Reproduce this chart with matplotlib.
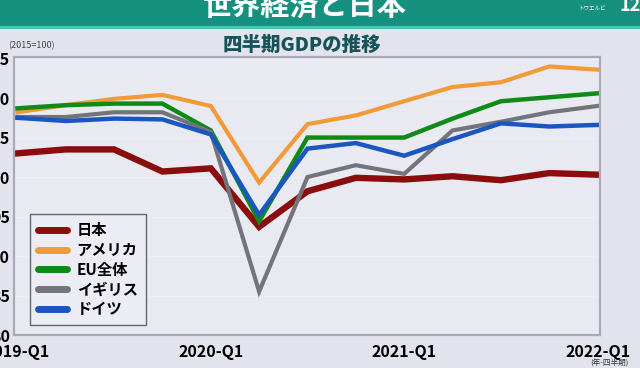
import matplotlib.pyplot as plt
from matplotlib.patches import Rectangle
import numpy as np

plt.rcParams['font.family'] = ['Noto Sans CJK JP', 'DejaVu Sans']

quarters = ['2019-Q1', '2019-Q2', '2019-Q3', '2019-Q4',
            '2020-Q1', '2020-Q2', '2020-Q3', '2020-Q4',
            '2021-Q1', '2021-Q2', '2021-Q3', '2021-Q4', '2022-Q1']
tick_labels = ['2019-Q1', '2020-Q1', '2021-Q1', '2022-Q1']

japan = [103.0, 103.5, 103.5, 100.7, 101.1, 93.7, 98.2, 99.9, 99.7, 100.1, 99.6, 100.5, 100.3]
usa = [108.2, 109.1, 109.9, 110.4, 109.0, 99.3, 106.7, 107.8, 109.6, 111.4, 112.0, 114.0, 113.6]
eu = [108.7, 109.1, 109.3, 109.3, 105.9, 94.4, 105.0, 105.0, 105.0, 107.4, 109.6, 110.1, 110.6]
uk = [107.6, 107.6, 108.2, 108.2, 105.7, 85.5, 100.0, 101.5, 100.4, 105.9, 107.0, 108.2, 109.0]
germany = [107.5, 107.1, 107.4, 107.3, 105.4, 95.2, 103.6, 104.3, 102.7, 104.8, 106.8, 106.4, 106.6]

names = ['日本', 'アメリカ', 'EU全体', 'イギリス', 'ドイツ']
colors = ['#8a0c0c', '#f39a38', '#0f8a14', '#73737c', '#1a56c2']
widths = [4.6, 3.0, 3.2, 3.0, 3.2]

fig = plt.figure(figsize=(6.4, 3.68), dpi=100)
fig.patch.set_facecolor('#e3e3ee')

# header band
fig.patches.append(Rectangle((0, 1 - 26 / 368), 1, 26 / 368, transform=fig.transFigure,
                             facecolor='#16907f', edgecolor='none', zorder=0))
fig.patches.append(Rectangle((0, 1 - 29 / 368), 1, 3 / 368, transform=fig.transFigure,
                             facecolor='#4cc4b4', edgecolor='none', zorder=0))
fig.text(0.477, 0.982, '世界経済と日本', color='white', fontsize=21, fontweight='bold',
         ha='center', va='center')
fig.text(0.925, 0.975, 'トウエルビ', color='white', fontsize=4, ha='center', va='center')
fig.text(0.985, 0.985, '12', color='white', fontsize=13, fontweight='bold', ha='center', va='center')

fig.text(0.471, 0.877, '四半期GDPの推移', color='#17545a', fontsize=14, fontweight='black',
         ha='center', va='center')
fig.text(0.013, 0.877, '(2015=100)', color='#444444', fontsize=6.5, ha='left', va='center')
fig.text(0.952, 0.011, '(年-四半期)', color='#333333', fontsize=5.5, ha='center', va='center')

ax = fig.add_axes([14 / 640, 33 / 368, 586 / 640, 278 / 368])
ax.set_facecolor('#e9e9f2')

x = np.arange(len(quarters))
for series, name, c, lw in zip([japan, usa, eu, uk, germany], names, colors, widths):
    ax.plot(x, series, color=c, linewidth=lw, label=name, solid_joinstyle='miter')

ax.set_xlim(-0.07, 12.05)
ax.set_ylim(80, 115.2)
ax.set_xticks([quarters.index(t) for t in tick_labels])
ax.set_xticklabels(tick_labels)
ax.set_yticks([80, 85, 90, 95, 100, 105, 110, 115])
ax.tick_params(length=0, labelsize=11.5, pad=3)
ax.tick_params(axis='x', pad=6.5)
for lab in ax.get_xticklabels() + ax.get_yticklabels():
    lab.set_fontweight('bold')
ax.grid(axis='y', color='#ededf5', linewidth=0.8)
for s in ax.spines.values():
    s.set_color('#a9a9b8')
    s.set_linewidth(1.6)

leg = ax.legend(loc='upper left', bbox_to_anchor=(16 / 586, 121 / 278), borderaxespad=0,
                prop={'weight': 'bold', 'size': 11}, handlelength=1.9,
                handletextpad=0.6, labelspacing=0.24, borderpad=0.55, fancybox=False,
                frameon=True, edgecolor='#666666', facecolor='#ececf4', framealpha=1)
leg.get_frame().set_linewidth(1.0)
for h in leg.get_lines():
    h.set_linewidth(5)
    h.set_solid_capstyle('round')

fig.savefig('out.png', dpi=100, facecolor=fig.get_facecolor())
